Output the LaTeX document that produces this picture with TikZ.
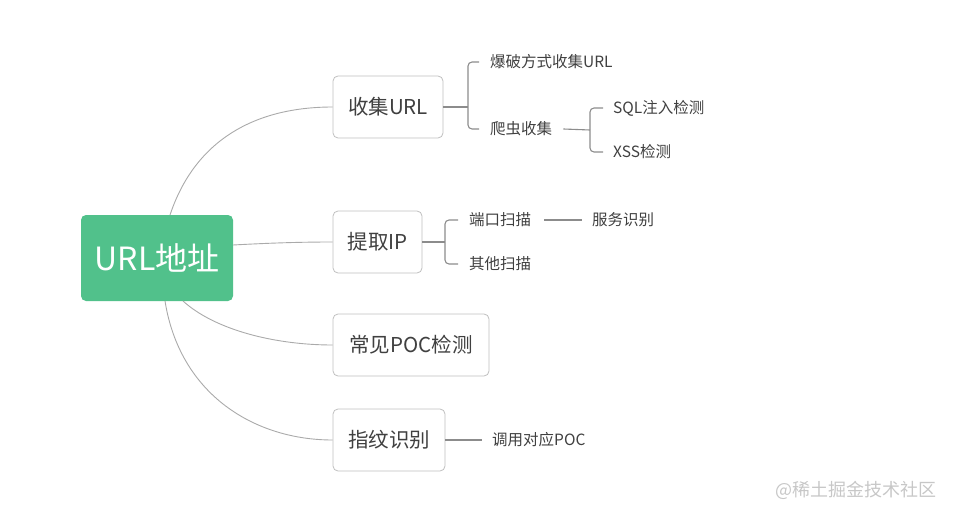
\documentclass[tikz,border=0pt]{standalone}
\usepackage{fontspec}
\setmainfont{Noto Sans CJK SC}
\begin{document}
\begin{tikzpicture}[x=1pt,y=-1pt,
  rootbox/.style={draw=none,fill=rootgreen,rounded corners=5pt,text=white,font=\fontsize{32}{32}\selectfont,inner sep=0pt},
  topic/.style={draw=boxgray,line width=0.8pt,fill=white,rounded corners=5pt,text=txt,font=\fontsize{20.5}{20.5}\selectfont,inner sep=0pt,minimum height=62pt},
  leaf/.style={anchor=west,text=txt,font=\fontsize{15.5}{15.5}\selectfont,inner sep=0pt},
  curve/.style={draw=curvegray,line width=0.9pt},
  brk/.style={draw=brkgray,line width=1.1pt,rounded corners=4pt},
]
\definecolor{rootgreen}{RGB}{81,193,139}
\definecolor{boxgray}{RGB}{192,192,192}
\definecolor{txt}{RGB}{64,64,64}
\definecolor{curvegray}{RGB}{170,170,170}
\definecolor{brkgray}{RGB}{140,140,140}
\useasboundingbox (0,0) rectangle (953,516);

\node[rootbox,minimum width=152pt,minimum height=86pt] (root) at (157,258) {URL地址};

\node[topic,minimum width=110pt] (u) at (388,107) {收集URL};
\node[topic,minimum width=89pt] (ip) at (377.5,242) {提取IP};
\node[topic,minimum width=156pt] (poc) at (411,345) {常见POC检测};
\node[topic,minimum width=112pt] (fp) at (389,440) {指纹识别};

% root connectors
\coordinate (r1) at (170,215);
\coordinate (r2) at (233,245);
\coordinate (r3) at (183,301);
\coordinate (r4) at (165,301);
\draw[curve] (r1) .. controls (195,140) and (255,107) .. (u.west);
\draw[curve] (r2) .. controls (270,243) and (300,242) .. (ip.west);
\draw[curve] (r3) .. controls (215,330) and (275,345) .. (poc.west);
\draw[curve] (r4) .. controls (180,395) and (255,440) .. (fp.west);

% 收集URL children
\node[leaf] (bp) at (490,62) {爆破方式收集URL};
\node[leaf] (pc) at (490,129) {爬虫收集};
\coordinate (b1) at (468,107);
\draw[brk] (u.east) -- (b1);
\draw[brk] ([xshift=-11pt]bp.west) -| (b1) |- ([xshift=-11pt]pc.west);

\node[leaf] (sql) at (613,108) {SQL注入检测};
\node[leaf] (xss) at (613,152) {XSS检测};
\coordinate (b2) at (590,130);
\draw[brk] ([xshift=11pt]pc.east) -- (b2);
\draw[brk] ([xshift=-10pt]sql.west) -| (b2) |- ([xshift=-10pt]xss.west);

% 提取IP children
\node[leaf] (dk) at (469,220) {端口扫描};
\node[leaf] (qt) at (469,264) {其他扫描};
\coordinate (b3) at (445,242);
\draw[brk] (ip.east) -- (b3);
\draw[brk] ([xshift=-11pt]dk.west) -| (b3) |- ([xshift=-11pt]qt.west);
\node[leaf] (fw) at (592,220) {服务识别};
\draw[brk] ([xshift=13pt]dk.east) -- ([xshift=-10pt]fw.west);

% 指纹识别 child
\node[leaf] (dy) at (492,440) {调用对应POC};
\draw[brk] (fp.east) -- ([xshift=-10pt]dy.west);

% watermark
\node[anchor=west,text=black!22,font=\fontsize{18}{18}\selectfont,inner sep=0pt] (wm) at (775,490) {@稀土掘金技术社区};
\end{tikzpicture}
\end{document}
